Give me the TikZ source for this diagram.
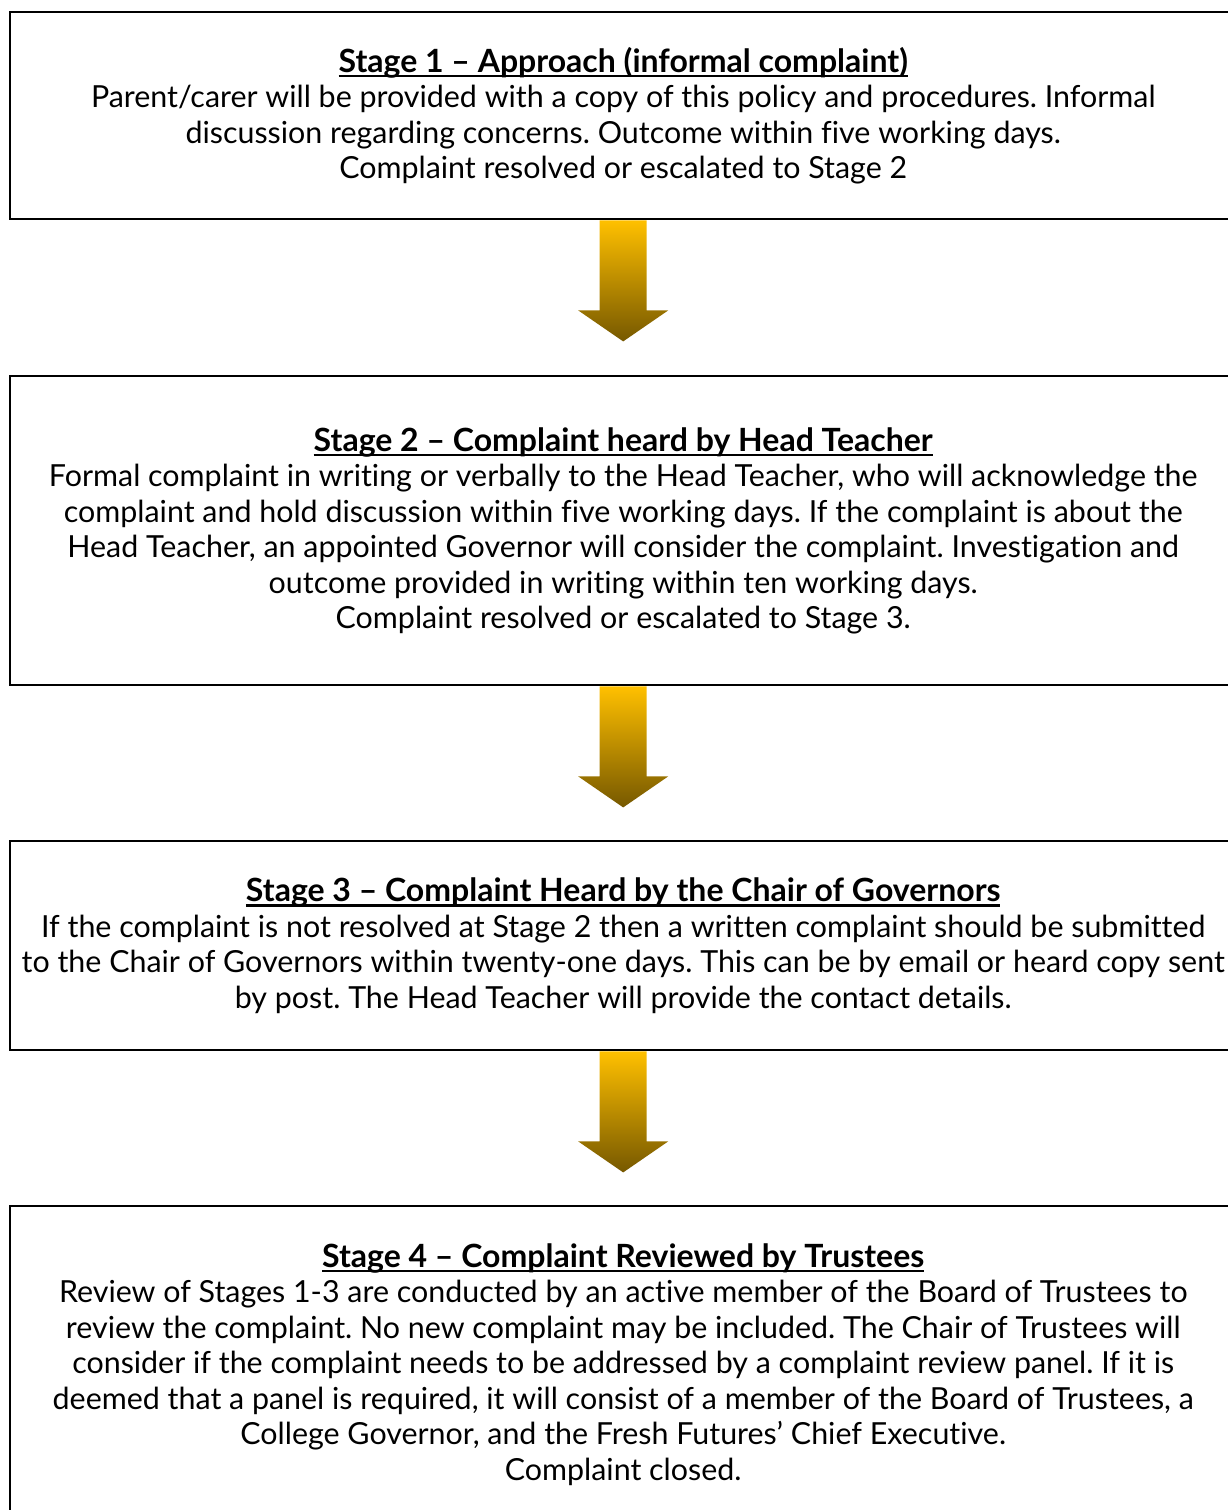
\documentclass[tikz,border=0pt]{standalone}
\usepackage{fontspec}
\setmainfont{Lato}[Ligatures=NoCommon]
\frenchspacing
\usetikzlibrary{calc}
\definecolor{goldtop}{RGB}{255,192,0}
\definecolor{goldbot}{RGB}{118,88,0}
\newcommand\ulx[1]{\setbox0\hbox{\fontsize{16pt}{17.75pt}\selectfont\bfseries #1}\rlap{\rule[-2.4pt]{\wd0}{1.1pt}}\box0}
\newcommand\goldarrow[1]{%
  \shade[top color=goldtop, bottom color=goldbot]
    ($(#1.south)+(-23.5,0)$) -- ++(0,90) -- ++(-21.5,0) -- ++(45,31)
    -- ++(45,-31) -- ++(-21.5,0) -- ++(0,-90) -- cycle;}
\tikzset{
  stagebox/.style={draw=black, line width=1.2pt, anchor=north west,
    minimum width=613pt, align=center, inner sep=0pt,
    font=\fontsize{15.2pt}{17.75pt}\selectfont},
}
\begin{document}
\begin{tikzpicture}[x=0.5pt,y=-0.5pt]
\useasboundingbox[fill=white] (0,0) rectangle (1227,1510);
\node[stagebox, minimum height=103.5pt] (b1) at (9,11)
  {\ulx{Stage 1 – Approach (informal complaint)}\\
   Parent/carer will be provided with a copy of this policy and procedures. Informal\\
   discussion regarding concerns. Outcome within five working days.\\
   Complaint resolved or escalated to Stage 2};
\node[stagebox, minimum height=154.5pt] (b2) at (9,375)
  {\ulx{Stage 2 – Complaint heard by Head Teacher}\\
   Formal complaint in writing or verbally to the Head Teacher, who will acknowledge the\\
   complaint and hold discussion within five working days. If the complaint is about the\\
   Head Teacher, an appointed Governor will consider the complaint. Investigation and\\
   outcome provided in writing within ten working days.\\
   Complaint resolved or escalated to Stage 3.};
\node[stagebox, minimum height=104.5pt] (b3) at (9,840)
  {\ulx{Stage 3 – Complaint Heard by the Chair of Governors}\\
   If the complaint is not resolved at Stage 2 then a written complaint should be submitted\\
   to the Chair of Governors within twenty-one days. This can be by email or heard copy sent\\
   by post. The Head Teacher will provide the contact details.};
\node[stagebox, minimum height=158pt] (b4) at (9,1205)
  {\ulx{Stage 4 – Complaint Reviewed by Trustees}\\
   Review of Stages 1-3 are conducted by an active member of the Board of Trustees to\\
   review the complaint. No new complaint may be included. The Chair of Trustees will\\
   consider if the complaint needs to be addressed by a complaint review panel. If it is\\
   deemed that a panel is required, it will consist of a member of the Board of Trustees, a\\
   College Governor, and the Fresh Futures’ Chief Executive.\\
   Complaint closed.};
\goldarrow{b1}
\goldarrow{b2}
\goldarrow{b3}
\end{tikzpicture}
\end{document}
